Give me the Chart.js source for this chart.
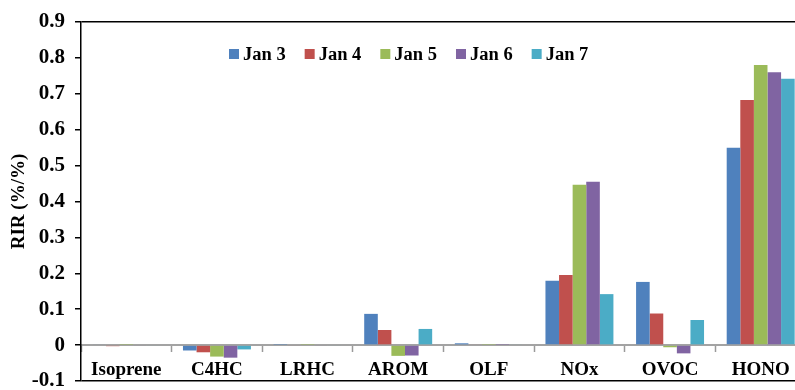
<!DOCTYPE html>
<html>
<head>
<meta charset="utf-8">
<script src="https://cdn.jsdelivr.net/npm/chart.js@4/dist/chart.umd.min.js"></script>
<style>
  html, body { margin: 0; padding: 0; background: #fff; width: 795px; height: 390px; overflow: hidden; }
  canvas { display: block; }
</style>
</head>
<body>
<canvas id="rir" width="812" height="390"></canvas>
<script>
// Relative incremental reactivity of each precursor group, per day
const categories = ['Isoprene', 'C4HC', 'LRHC', 'AROM', 'OLF', 'NOx', 'OVOC', 'HONO'];
const seriesNames = ['Jan 3', 'Jan 4', 'Jan 5', 'Jan 6', 'Jan 7'];

const jan3 = [0.002, -0.015, 0.001, 0.087, 0.005, 0.179, 0.176, 0.550];
const jan4 = [-0.003, -0.020, -0.002, 0.042, 0.002, 0.195, 0.088, 0.683];
const jan5 = [0.001, -0.032, 0.001, -0.030, 0.001, 0.447, -0.006, 0.780];
const jan6 = [-0.002, -0.035, -0.002, -0.029, 0.001, 0.455, -0.023, 0.760];
const jan7 = [-0.002, -0.012, -0.002, 0.045, 0.002, 0.142, 0.070, 0.742];

const yTickLabels = ['-0.1', '0', '0.1', '0.2', '0.3', '0.4', '0.5', '0.6', '0.7', '0.8', '0.9'];

const seriesColors = ['#4F81BD', '#C0504D', '#9BBB59', '#8064A2', '#4BACC6'];
const seriesValues = [jan3, jan4, jan5, jan6, jan7];

const FONT = '"Liberation Serif", "Times New Roman", serif';

// Legend drawn inside the plot, one row of square swatches
const inlineLegend = {
  id: 'inlineLegend',
  afterDraw(chart) {
    const { ctx, chartArea } = chart;
    ctx.save();
    ctx.font = 'bold 18.5px ' + FONT;
    ctx.textBaseline = 'middle';
    ctx.textAlign = 'left';
    let x = chartArea.left + 148;
    const y = chartArea.top + 32;
    chart.data.datasets.forEach(ds => {
      ctx.fillStyle = ds.backgroundColor;
      ctx.fillRect(x, y - 5, 10, 10);
      ctx.fillStyle = '#000';
      ctx.fillText(ds.label, x + 14, y + 1);
      x += 14 + ctx.measureText(ds.label).width + 19;
    });
    ctx.restore();
  }
};

new Chart(document.getElementById('rir'), {
  type: 'bar',
  data: {
    labels: categories,
    datasets: seriesNames.map((name, i) => ({
      label: name,
      data: seriesValues[i],
      backgroundColor: seriesColors[i],
      borderWidth: 0,
      categoryPercentage: 0.75,
      barPercentage: 1.0
    }))
  },
  options: {
    responsive: false,
    animation: false,
    layout: { padding: { top: 22, bottom: 9, left: 0, right: 6 } },
    plugins: {
      legend: { display: false },
      tooltip: { enabled: false }
    },
    scales: {
      x: {
        type: 'category',
        position: { y: 0 },
        offset: true,
        grid: {
          display: true,
          drawOnChartArea: false,
          drawTicks: true,
          tickLength: 6,
          tickColor: '#9a9a9a',
          tickWidth: 1.5,
          offset: true
        },
        border: { display: true, color: '#a3a3a3', width: 2 },
        ticks: {
          autoSkip: false,
          maxRotation: 0,
          padding: 8,
          color: '#000',
          font: { family: FONT, size: 19, weight: 'bold' }
        }
      },
      y: {
        min: -0.1,
        max: 0.9,
        ticks: {
          stepSize: 0.1,
          padding: 10,
          color: '#000',
          font: { family: FONT, size: 21, weight: 'bold' },
          callback: (v, i) => yTickLabels[i]
        },
        grid: {
          drawOnChartArea: true,
          drawTicks: true,
          tickLength: 6,
          tickColor: '#000',
          tickWidth: 1.5,
          lineWidth: 1.5,
          color: c => (c.tick && (Math.abs(c.tick.value - 0.9) < 1e-6 || Math.abs(c.tick.value + 0.1) < 1e-6)) ? '#000' : 'rgba(0,0,0,0)'
        },
        border: { display: true, color: '#000', width: 1.5 },
        title: {
          display: true,
          text: 'RIR (%/%)',
          color: '#000',
          font: { family: FONT, size: 19, weight: 'bold' },
          padding: { top: 8, bottom: 0 }
        },
        afterFit: s => {
          s.width = 81;
          s.paddingTop = 0;
          s.paddingBottom = 0;
        }
      }
    }
  },
  plugins: [inlineLegend]
});
</script>
</body>
</html>
